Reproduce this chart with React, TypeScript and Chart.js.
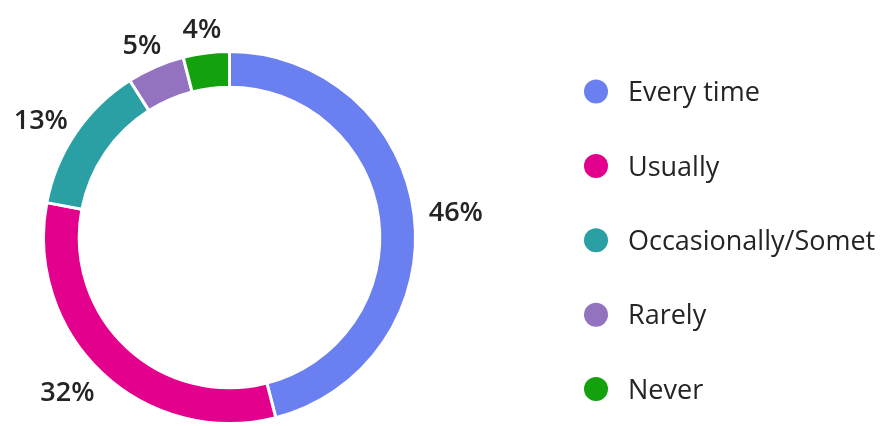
import React, { useEffect, useRef } from "react";
import { Chart, registerables } from "chart.js";

Chart.register(...registerables);

const categories = ["Every time", "Usually", "Occasionally/Sometimes", "Rarely", "Never"];
const responses = [46, 32, 13, 5, 4];
const sliceColors = ["#6A7FF0", "#E3008C", "#2AA0A4", "#9373C0", "#14A10E"];

const TEXT_COLOR = "#252423";
const FONT_FAMILY = '"Open Sans", "Noto Sans", sans-serif';
const LABEL_SIZE = 27;
const LEGEND_SIZE = 27;

const sliceLabels = {
  id: "sliceLabels",
  afterDatasetsDraw(chart: any) {
    const ctx = chart.ctx;
    const meta = chart.getDatasetMeta(0);
    const data = chart.data.datasets[0].data as number[];
    const total = data.reduce((a, b) => a + b, 0);
    ctx.save();
    ctx.font = `600 ${LABEL_SIZE}px ${FONT_FAMILY}`;
    ctx.fillStyle = TEXT_COLOR;
    ctx.textAlign = "center";
    ctx.textBaseline = "alphabetic";
    const capH = LABEL_SIZE * 0.714;
    meta.data.forEach((arc: any, i: number) => {
      const { x, y, startAngle, endAngle, outerRadius } = arc.getProps(
        ["x", "y", "startAngle", "endAngle", "outerRadius"],
        true
      );
      const mid = (startAngle + endAngle) / 2;
      const r = outerRadius + 15;
      const ax = x + Math.cos(mid) * r;
      const ay = y + Math.sin(mid) * r;
      const text = Math.round((data[i] / total) * 100) + "%";
      const w = ctx.measureText(text).width;
      const cx = ax + Math.cos(mid) * (w / 2) - (Math.cos(mid) < -0.5 && Math.sin(mid) > 0.5 ? 6 : 0);
      const cy = ay + Math.sin(mid) * (capH / 2);
      ctx.fillText(text, cx, cy + capH / 2);
    });
    ctx.restore();
  },
};

const sideLegend = {
  id: "sideLegend",
  afterDraw(chart: any) {
    const ctx = chart.ctx;
    const labels = chart.data.labels as string[];
    const colors = chart.data.datasets[0].backgroundColor as string[];
    ctx.save();
    ctx.font = `400 ${LEGEND_SIZE}px ${FONT_FAMILY}`;
    ctx.textAlign = "left";
    ctx.textBaseline = "alphabetic";
    const textX = 628;
    const maxW = chart.width - textX - 6;
    labels.forEach((label, i) => {
      const cy = 91.5 + i * 74.4;
      ctx.beginPath();
      ctx.arc(596, cy, 12, 0, Math.PI * 2);
      ctx.fillStyle = colors[i];
      ctx.fill();
      let shown = label;
      while (shown.length > 1 && ctx.measureText(shown).width > maxW) {
        shown = shown.slice(0, -1);
      }
      ctx.fillStyle = TEXT_COLOR;
      ctx.fillText(shown, textX, cy + LEGEND_SIZE * 0.357);
    });
    ctx.restore();
  },
};

export default function App() {
  const canvasRef = useRef<HTMLCanvasElement | null>(null);

  useEffect(() => {
    if (!canvasRef.current) return;
    const chart = new Chart(canvasRef.current, {
      type: "doughnut",
      data: {
        labels: categories,
        datasets: [
          {
            data: responses,
            backgroundColor: sliceColors,
            borderColor: "#ffffff",
            borderWidth: 3,
          },
        ],
      },
      options: {
        responsive: false,
        animation: false,
        events: [],
        cutout: "80.8%",
        layout: { padding: { left: 42, right: 468, top: 50, bottom: 1 } },
        plugins: {
          legend: { display: false },
          tooltip: { enabled: false },
        },
      },
      plugins: [sliceLabels, sideLegend],
    });
    return () => chart.destroy();
  }, []);

  return (
    <div style={{ position: "fixed", left: 0, top: 0, width: 885, height: 426, background: "#ffffff" }}>
      <canvas ref={canvasRef} width={885} height={426} style={{ width: 885, height: 426, display: "block" }} />
    </div>
  );
}
